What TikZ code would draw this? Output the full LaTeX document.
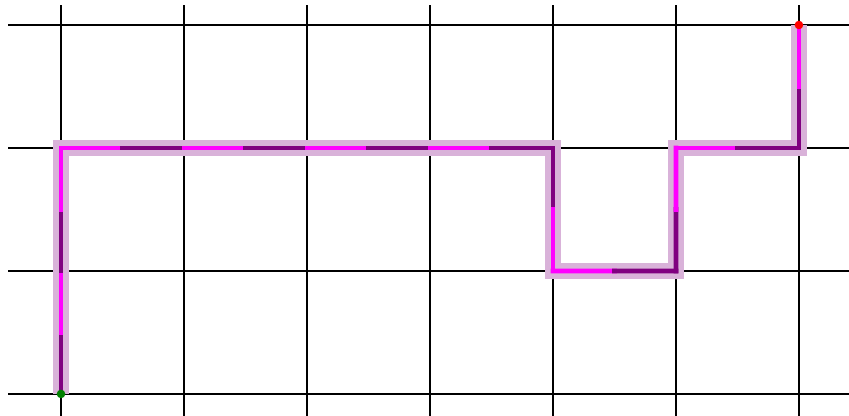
\documentclass[tikz,border=0pt]{standalone}
\usetikzlibrary{calc}
\definecolor{pathpurple}{RGB}{128,0,128}
\definecolor{pathmagenta}{RGB}{255,0,255}
\definecolor{startgreen}{RGB}{0,128,0}
\begin{document}
\begin{tikzpicture}[
    gridline/.style={black, line width=0.45pt},
    halo/.style={draw=pathpurple!30, line width=3.6pt, line join=miter, line cap=butt},
    edge/.style={line width=1.1pt, line cap=rect},
    enddot/.style={circle, inner sep=0pt, minimum size=0.7mm}
  ]
    \useasboundingbox (-0.496,-0.179) rectangle (6.407,3.203);

    % Grid
    \foreach \i in {0,...,6}
        \draw[gridline] (\i,-0.18) -- (\i,3.16);
    \foreach \j in {0,...,3}
        \draw[gridline] (-0.43,\j) -- (6.41,\j);

    % Path vertices
    \coordinate (p0) at (0,0);
    \coordinate (p1) at (0,1);
    \coordinate (p2) at (0,2);
    \coordinate (p3) at (1,2);
    \coordinate (p4) at (2,2);
    \coordinate (p5) at (3,2);
    \coordinate (p6) at (4,2);
    \coordinate (p7) at (4,1);
    \coordinate (p8) at (5,1);
    \coordinate (p9) at (5,2);
    \coordinate (p10) at (6,2);
    \coordinate (p11) at (6,3);

    % Highlight under the path
    \draw[halo] (p0) -- (p1) -- (p2) -- (p3) -- (p4) -- (p5) -- (p6)
        -- (p7) -- (p8) -- (p9) -- (p10) -- (p11);

    % Edges, each split in two halves
    \foreach \a/\b/\first/\second in {
        p0/p1/pathpurple/pathmagenta,
        p1/p2/pathpurple/pathmagenta,
        p2/p3/pathmagenta/pathpurple,
        p3/p4/pathmagenta/pathpurple,
        p4/p5/pathmagenta/pathpurple,
        p5/p6/pathmagenta/pathpurple,
        p6/p7/pathpurple/pathmagenta,
        p7/p8/pathmagenta/pathpurple,
        p8/p9/pathpurple/pathmagenta,
        p9/p10/pathmagenta/pathpurple,
        p10/p11/pathpurple/pathmagenta}
    {
        \coordinate (m) at ($(\a)!0.5!(\b)$);
        \draw[edge, draw=\first] (\a) -- (m);
        \draw[edge, draw=\second] (m) -- (\b);
    }

    % Start and goal
    \node[enddot, fill=startgreen] (start) at (p0) {};
    \node[enddot, fill=red] (goal) at (p11) {};
\end{tikzpicture}
\end{document}
